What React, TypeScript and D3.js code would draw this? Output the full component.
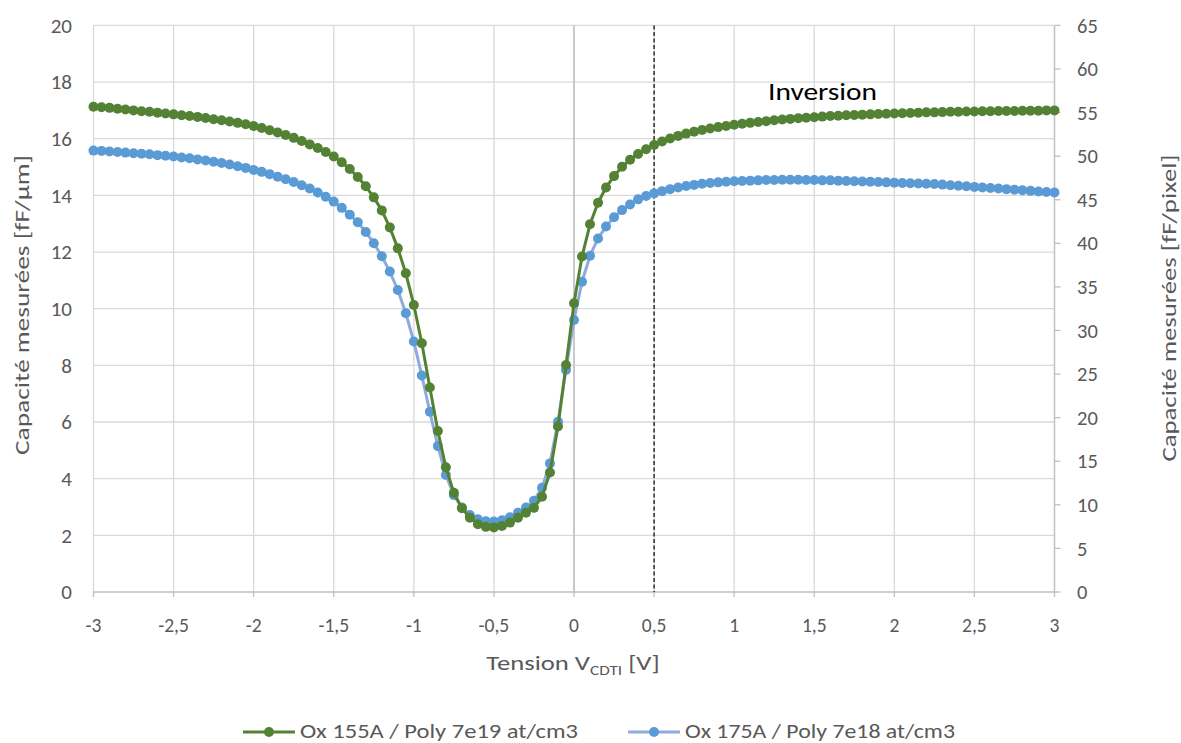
import React from "react";
import * as d3 from "d3";

const VOLTAGES = [
  -3, -2.95, -2.9, -2.85, -2.8, -2.75, -2.7, -2.65, -2.6, -2.55,
  -2.5, -2.45, -2.4, -2.35, -2.3, -2.25, -2.2, -2.15, -2.1, -2.05,
  -2, -1.95, -1.9, -1.85, -1.8, -1.75, -1.7, -1.65, -1.6, -1.55,
  -1.5, -1.45, -1.4, -1.35, -1.3, -1.25, -1.2, -1.15, -1.1, -1.05,
  -1, -0.95, -0.9, -0.85, -0.8, -0.75, -0.7, -0.65, -0.6, -0.55,
  -0.5, -0.45, -0.4, -0.35, -0.3, -0.25, -0.2, -0.15, -0.1, -0.05,
  0, 0.05, 0.1, 0.15, 0.2, 0.25, 0.3, 0.35, 0.4, 0.45,
  0.5, 0.55, 0.6, 0.65, 0.7, 0.75, 0.8, 0.85, 0.9, 0.95,
  1, 1.05, 1.1, 1.15, 1.2, 1.25, 1.3, 1.35, 1.4, 1.45,
  1.5, 1.55, 1.6, 1.65, 1.7, 1.75, 1.8, 1.85, 1.9, 1.95,
  2, 2.05, 2.1, 2.15, 2.2, 2.25, 2.3, 2.35, 2.4, 2.45,
  2.5, 2.55, 2.6, 2.65, 2.7, 2.75, 2.8, 2.85, 2.9, 2.95,
  3,
];

const OX155 = [
  17.13, 17.11, 17.09, 17.06, 17.03, 17.0, 16.97, 16.95, 16.92, 16.89,
  16.86, 16.83, 16.8, 16.77, 16.73, 16.69, 16.65, 16.61, 16.56, 16.51,
  16.45, 16.38, 16.3, 16.22, 16.13, 16.03, 15.92, 15.8, 15.67, 15.53,
  15.37, 15.17, 14.93, 14.65, 14.32, 13.93, 13.47, 12.87, 12.13, 11.25,
  10.13, 8.78, 7.22, 5.68, 4.4, 3.5, 2.96, 2.62, 2.39, 2.3,
  2.28, 2.33, 2.45, 2.62, 2.8, 2.97, 3.36, 4.22, 5.84, 8.01,
  10.19, 11.84, 12.98, 13.74, 14.28, 14.68, 15.01, 15.26, 15.46, 15.63,
  15.78, 15.9, 16.01, 16.1, 16.18, 16.25, 16.31, 16.36, 16.41, 16.45,
  16.49, 16.53, 16.56, 16.59, 16.62, 16.65, 16.68, 16.7, 16.72, 16.74,
  16.76, 16.78, 16.8, 16.81, 16.83, 16.84, 16.85, 16.86, 16.87, 16.88,
  16.89, 16.9, 16.91, 16.92, 16.93, 16.93, 16.94, 16.95, 16.95, 16.96,
  16.96, 16.97, 16.97, 16.98, 16.98, 16.98, 16.99, 16.99, 16.99, 17.0,
  17.0,
];

const OX175 = [
  15.58, 15.57, 15.55, 15.53, 15.51, 15.49, 15.47, 15.45, 15.42, 15.4,
  15.37, 15.34, 15.31, 15.27, 15.23, 15.19, 15.14, 15.09, 15.03, 14.97,
  14.9, 14.83, 14.75, 14.66, 14.57, 14.47, 14.36, 14.24, 14.1, 13.95,
  13.78, 13.56, 13.32, 13.05, 12.71, 12.31, 11.85, 11.31, 10.66, 9.84,
  8.84, 7.64, 6.36, 5.15, 4.13, 3.42, 2.98, 2.72, 2.57, 2.5,
  2.49, 2.53, 2.64, 2.8, 2.98, 3.22, 3.68, 4.54, 6.01, 7.84,
  9.6, 10.95, 11.87, 12.48, 12.9, 13.23, 13.48, 13.68, 13.86, 13.98,
  14.07, 14.15, 14.22, 14.28, 14.33, 14.37, 14.41, 14.44, 14.46, 14.48,
  14.5, 14.51, 14.52, 14.53, 14.54, 14.54, 14.55, 14.55, 14.55, 14.54,
  14.54, 14.53, 14.53, 14.52, 14.51, 14.5, 14.49, 14.48, 14.47, 14.46,
  14.45, 14.44, 14.43, 14.42, 14.41, 14.4, 14.38, 14.36, 14.34, 14.32,
  14.3, 14.28, 14.26, 14.24, 14.22, 14.2, 14.18, 14.16, 14.14, 14.12,
  14.1,
];

const X_TICKS = [-3, -2.5, -2, -1.5, -1, -0.5, 0, 0.5, 1, 1.5, 2, 2.5, 3];
const Y_LEFT_TICKS = [0, 2, 4, 6, 8, 10, 12, 14, 16, 18, 20];
const Y_RIGHT_TICKS = [0, 5, 10, 15, 20, 25, 30, 35, 40, 45, 50, 55, 60, 65];
const SERIES_NAMES = ["Ox 155A / Poly 7e19 at/cm3", "Ox 175A / Poly 7e18 at/cm3"];
const INVERSION_V = 0.5;

const FONT = "Carlito, Calibri, 'Liberation Sans', Arial, sans-serif";
const TXT = "#595959";
const GREEN = "#548235";
const BLUE_DOT = "#5B9BD5";
const BLUE_LINE = "#8FAADC";

export default function App() {
  const W = 1181, H = 743;
  const left = 93.5, right = 1054.5, top = 25.4, bottom = 592;
  const x = d3.scaleLinear().domain([-3, 3]).range([left, right]);
  const y = d3.scaleLinear().domain([0, 20]).range([bottom, top]);
  const yR = d3.scaleLinear().domain([0, 65]).range([bottom, top]);

  const line = d3
    .line<number>()
    .x((_, i) => x(VOLTAGES[i]))
    .y((d) => y(d));

  const fmt = (v: number) => String(v).replace(".", ",");

  const series = [
    { name: SERIES_NAMES[1], data: OX175, line: BLUE_LINE, dot: BLUE_DOT },
    { name: SERIES_NAMES[0], data: OX155, line: GREEN, dot: GREEN },
  ];

  const gridX = d3.range(-3, 3.001, 0.5);

  return (
    <svg
      width={W}
      height={H}
      style={{ position: "absolute", left: 0, top: 0, background: "#fff" }}
      fontFamily={FONT}
    >
      {/* horizontal gridlines */}
      {Y_LEFT_TICKS.filter((t) => t > 0).map((t) => (
        <line key={"gy" + t} x1={left} x2={right} y1={y(t)} y2={y(t)} stroke="#d9d9d9" strokeWidth={1.3} />
      ))}
      {/* vertical gridlines */}
      {gridX.map((t) => (
        <line key={"gx" + t} x1={x(t)} x2={x(t)} y1={top} y2={bottom} stroke="#d9d9d9" strokeWidth={1.3} />
      ))}
      {/* zero vertical axis */}
      <line x1={x(0)} x2={x(0)} y1={top} y2={bottom} stroke="#bfbfbf" strokeWidth={1.5} />
      {/* bottom axis */}
      <line x1={left} x2={right} y1={bottom} y2={bottom} stroke="#bfbfbf" strokeWidth={1.3} />
      {X_TICKS.map((t) => (
        <line key={"xt" + t} x1={x(t)} x2={x(t)} y1={bottom} y2={bottom + 5} stroke="#bfbfbf" strokeWidth={1.3} />
      ))}
      {/* right axis */}
      <line x1={right} x2={right} y1={top} y2={bottom} stroke="#bfbfbf" strokeWidth={1.3} />
      {Y_RIGHT_TICKS.map((t) => (
        <line key={"rt" + t} x1={right} x2={right + 6} y1={yR(t)} y2={yR(t)} stroke="#bfbfbf" strokeWidth={1.3} />
      ))}

      {/* inversion dashed line */}
      <line
        x1={x(INVERSION_V)}
        x2={x(INVERSION_V)}
        y1={top}
        y2={bottom}
        stroke="#000"
        strokeWidth={1.2}
        strokeDasharray="4,2.5"
      />

      {/* series */}
      {series.map((s) => (
        <g key={s.name}>
          <path d={line(s.data) || ""} fill="none" stroke={s.line} strokeWidth={3} strokeLinejoin="round" />
          {s.data.map((v, i) => (
            <circle key={i} cx={x(VOLTAGES[i])} cy={y(v)} r={5} fill={s.dot} />
          ))}
        </g>
      ))}

      {/* left tick labels */}
      {Y_LEFT_TICKS.map((t) => (
        <text key={"yl" + t} x={72} y={y(t)} dy="0.35em" textAnchor="end" fontSize={21} fill={TXT}>
          {t}
        </text>
      ))}
      {/* right tick labels */}
      {Y_RIGHT_TICKS.map((t) => (
        <text key={"yr" + t} x={1077} y={yR(t)} dy="0.35em" textAnchor="start" fontSize={20.5} fill={TXT}>
          {t}
        </text>
      ))}
      {/* x tick labels */}
      {X_TICKS.map((t) => (
        <text key={"xl" + t} x={x(t)} y={625} dy="0.35em" textAnchor="middle" fontSize={19.5} fill={TXT}>
          {fmt(t)}
        </text>
      ))}

      {/* axis titles */}
      <g transform="translate(573,663) scale(1.27,1)">
        <text x={0} y={0} dy="0.35em" textAnchor="middle" fontSize={21} fill={TXT}>
          Tension V
          <tspan fontSize={13.5} dy="5">CDTI</tspan>
          <tspan dy="-5"> [V]</tspan>
        </text>
      </g>
      <text
        transform="translate(22,305) rotate(-90)"
        textAnchor="middle"
        dy="0.35em"
        fontSize={21}
        fill={TXT}
        textLength={300}
        lengthAdjust="spacingAndGlyphs"
      >
        Capacité mesurées [fF/µm]
      </text>
      <text
        transform="translate(1169,308) rotate(-90)"
        textAnchor="middle"
        dy="0.35em"
        fontSize={21}
        fill={TXT}
        textLength={307}
        lengthAdjust="spacingAndGlyphs"
      >
        Capacité mesurées [fF/pixel]
      </text>

      {/* annotation */}
      <text
        x={768}
        y={91}
        dy="0.35em"
        fontSize={24.5}
        fill="#000"
        textLength={109}
        lengthAdjust="spacingAndGlyphs"
      >
        Inversion
      </text>

      {/* legend */}
      {[
        { name: SERIES_NAMES[0], line: GREEN, dot: GREEN, x0: 243, w: 278 },
        { name: SERIES_NAMES[1], line: BLUE_LINE, dot: BLUE_DOT, x0: 628, w: 270 },
      ].map((l) => (
        <g key={l.name}>
          <line x1={l.x0} x2={l.x0 + 52} y1={732} y2={732} stroke={l.line} strokeWidth={3} />
          <circle cx={l.x0 + 26} cy={732} r={5} fill={l.dot} />
          <text
            x={l.x0 + 57}
            y={731}
            dy="0.35em"
            fontSize={20}
            fill={TXT}
            textLength={l.w}
            lengthAdjust="spacingAndGlyphs"
          >
            {l.name}
          </text>
        </g>
      ))}
    </svg>
  );
}
